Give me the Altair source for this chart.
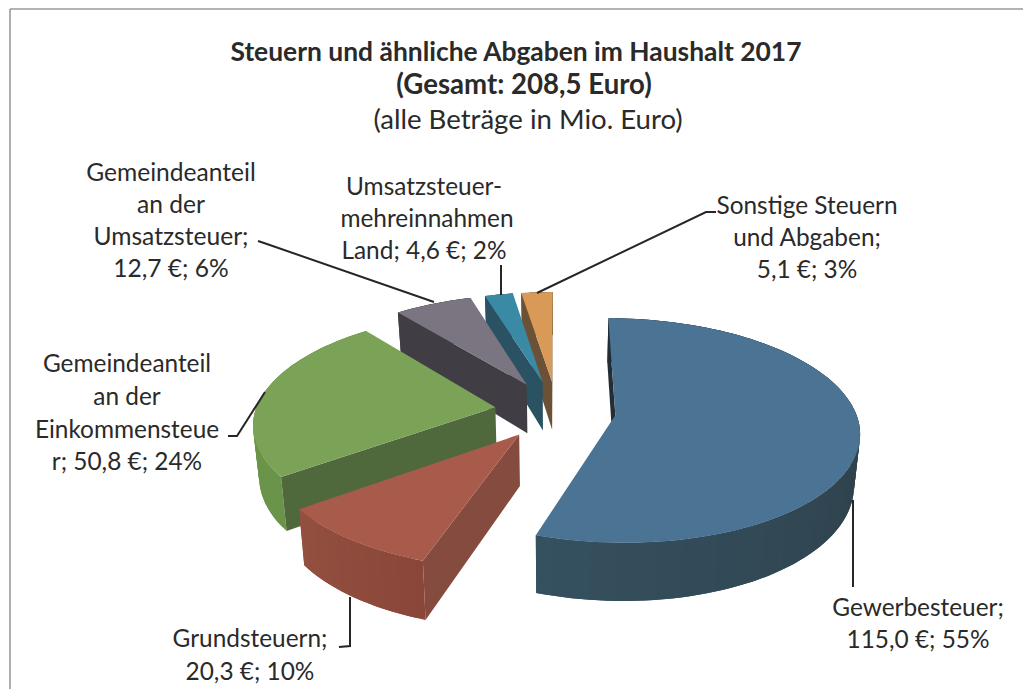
import math
import altair as alt

# ---- data ----
categories = ["Gewerbesteuer", "Grundsteuern", "Gemeindeanteil Einkommensteuer",
              "Gemeindeanteil Umsatzsteuer", "Umsatzsteuer-Mehreinnahmen Land", "Sonstige Steuern"]
values = [115.0, 20.3, 50.8, 12.7, 4.6, 5.1]
top_colors = ["#4b7394", "#a85b4a", "#7ba358", "#7a7580", "#3a8aa6", "#d99a57"]
outer_from = ["#283339", "#8a4739", "#6a944a", "#403e44", "#2a5262", "#6b5236"]
outer_to = ["#35505f", "#934f40", "#6a944a", "#403e44", "#2a5262", "#6b5236"]
radial_colors = ["#222d34", "#854b3e", "#4f693c", "#403e44", "#2a5262", "#6b5236"]
explode = [0.245, 0.26, 0.26, 0.28, 0.28, 0.28]
draw_order = [5, 4, 3, 2, 1, 0]

label_lines = [
    ("Steuern und ähnliche Abgaben im Haushalt 2017", 516, 53, 26.4, "bold"),
    ("(Gesamt: 208,5 Euro)", 524, 86, 27.6, "bold"),
    ("(alle Beträge in Mio. Euro)", 528, 121, 27.6, "normal"),
    ("Gemeindeanteil", 171, 174, 24.6, "normal"),
    ("an der", 171, 206, 24.6, "normal"),
    ("Umsatzsteuer;", 171, 238, 24.6, "normal"),
    ("12,7 €; 6%", 171, 270, 24.6, "normal"),
    ("Umsatzsteuer-", 424, 188, 24.4, "normal"),
    ("mehreinnahmen", 427, 220, 24.4, "normal"),
    ("Land; 4,6 €; 2%", 424, 252, 24.4, "normal"),
    ("Sonstige Steuern", 807, 207, 24.4, "normal"),
    ("und Abgaben;", 807, 239, 24.4, "normal"),
    ("5,1 €; 3%", 807, 271, 24.4, "normal"),
    ("Gemeindeanteil", 127, 365, 24.4, "normal"),
    ("an der", 127, 398, 24.4, "normal"),
    ("Einkommensteue", 127, 431, 24.4, "normal"),
    ("r; 50,8 €; 24%", 127, 463, 24.4, "normal"),
    ("Gewerbesteuer;", 918, 609, 24.4, "normal"),
    ("115,0 €; 55%", 918, 641, 24.4, "normal"),
    ("Grundsteuern;", 250, 640, 24.4, "normal"),
    ("20,3 €; 10%", 250, 673, 24.4, "normal"),
]

leaders = [
    [(258, 241), (264, 243), (434, 302)],
    [(501, 265), (501, 295)],
    [(716, 212), (706, 212), (537, 293)],
    [(228, 436), (237, 436), (265, 392)],
    [(339, 647), (350, 646), (350, 597)],
    [(853, 500), (853, 587)],
]

# ---- page frame and pie projection ----
W, H = 1015, 681
OFF = 8
CX, CY, KX, KY, P, DEPTH = 557, 411, 240, 109, 0.135, 50


def project(u, v, lower=False):
    s = 1 / (1 + P * v)
    x = CX + KX * u * s
    y = CY - KY * v * s
    if lower:
        x = CX + (x - CX) * 0.98
        y = y + DEPTH * s
    return [round(x - OFF, 2), round(y - OFF, 2)]


def feature(ring, fill):
    return {"type": "Feature", "properties": {"fill": fill},
            "geometry": {"type": "Polygon", "coordinates": [ring + [ring[0]]]}}


def mix(c0, c1, t):
    a = [int(c0[i:i + 2], 16) for i in (1, 3, 5)]
    b = [int(c1[i:i + 2], 16) for i in (1, 3, 5)]
    return "#" + "".join(f"{round(p + (q - p) * t):02x}" for p, q in zip(a, b))


def area(ring):
    return sum(ring[i][0] * ring[(i + 1) % len(ring)][1] - ring[(i + 1) % len(ring)][0] * ring[i][1]
               for i in range(len(ring)))


total = sum(values)
spans = []
start = 0.0
for val in values:
    end = start + val / total * 2 * math.pi
    spans.append((start, end))
    start = end

features = [feature([[0, 0], [W, 0], [W, H], [0, H]], "#ffffff")]
for i in draw_order:
    a0, a1 = spans[i]
    mid = (a0 + a1) / 2
    ex, ey = explode[i] * math.sin(mid), explode[i] * math.cos(mid)
    n = max(4, int((a1 - a0) * 30))
    angles = [a0 + (a1 - a0) * j / n for j in range(n + 1)]
    pts = [(ex + math.sin(a), ey + math.cos(a)) for a in angles]
    top_arc = [project(u, v) for u, v in pts]
    low_arc = [project(u, v, True) for u, v in pts]
    apex_t, apex_b = project(ex, ey), project(ex, ey, True)
    for j in range(n):
        stop = min(j + 3, n + 1)
        features.append(feature(top_arc[j:stop] + low_arc[j:stop][::-1],
                                mix(outer_from[i], outer_to[i], j / (n - 1))))
    wall0 = [apex_t, top_arc[0], low_arc[0], apex_b]
    wall1 = [apex_t, top_arc[-1], low_arc[-1], apex_b]
    if area(wall0) < 0:
        features.append(feature(wall0, radial_colors[i]))
    if area(wall1) > 0:
        features.append(feature(wall1, radial_colors[i]))
    features.append(feature([apex_t] + top_arc, top_colors[i]))

pie = alt.Chart(alt.Data(values=features)).mark_geoshape(stroke=None).encode(
    color=alt.Color("properties.fill:N", scale=None)
).project(type="identity", scale=1, translate=[0, 0])

xs = alt.Scale(domain=[0, W])
ys = alt.Scale(domain=[H, 0])

line_rows = []
for k, path in enumerate(leaders):
    for j, (x, y) in enumerate(path):
        line_rows.append({"x": x - OFF, "y": y - OFF, "k": k, "j": j})
lines = alt.Chart(alt.Data(values=line_rows)).mark_line(color="#262626", strokeWidth=2).encode(
    x=alt.X("x:Q", scale=xs, axis=None),
    y=alt.Y("y:Q", scale=ys, axis=None),
    detail="k:N",
    order="j:Q",
)

text_rows = [{"t": t, "x": x - OFF, "y": y - OFF, "s": s, "w": w} for t, x, y, s, w in label_lines]
texts = []
for weight in ["normal", "bold"]:
    subset = [r for r in text_rows if r["w"] == weight]
    texts.append(
        alt.Chart(alt.Data(values=subset)).mark_text(
            font="Lato", color="#2a2a2a", fontWeight=weight, align="center", baseline="middle"
        ).encode(
            x=alt.X("x:Q", scale=xs, axis=None),
            y=alt.Y("y:Q", scale=ys, axis=None),
            text="t:N",
            size=alt.Size("s:Q", scale=None, legend=None),
        )
    )

border_rows = [{"x": 2, "y": 1, "j": 0}, {"x": W, "y": 1, "j": 1}]
border_rows2 = [{"x": 2, "y": 1, "j": 0}, {"x": 2, "y": H, "j": 1}]
border = alt.layer(*[
    alt.Chart(alt.Data(values=r)).mark_line(color="#9a9a9a", strokeWidth=1.6).encode(
        x=alt.X("x:Q", scale=xs, axis=None), y=alt.Y("y:Q", scale=ys, axis=None), order="j:Q")
    for r in (border_rows, border_rows2)
])

chart = alt.layer(pie, border, lines, *texts).resolve_scale(
    x="shared", y="shared"
).properties(
    width=W, height=H, padding=0, background="#ffffff",
    autosize=alt.AutoSizeParams(type="none"),
).configure_view(stroke=None)

chart.save("out.html", embed_options={"renderer": "svg", "actions": False})
